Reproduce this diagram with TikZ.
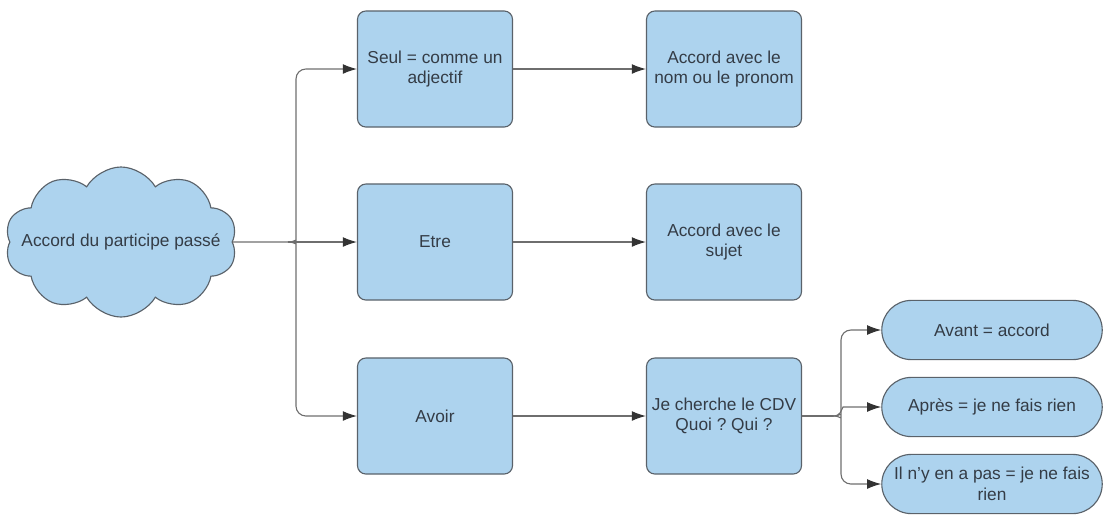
\documentclass[tikz,border=0pt]{standalone}
\usepackage{fontspec}
\setmainfont{Liberation Sans}
\usetikzlibrary{shapes.symbols}
\usetikzlibrary{shapes.misc}
\usetikzlibrary{arrows.meta}
\definecolor{boxblue}{RGB}{173,211,238}
\definecolor{boxline}{RGB}{90,98,106}
\definecolor{txtgray}{RGB}{52,60,70}
\definecolor{wire}{RGB}{110,110,110}
\frenchspacing

\begin{document}
\begin{tikzpicture}[x=0.025cm,y=-0.025cm,
  every node/.style={text=txtgray,font=\fontsize{12.3}{14.5}\selectfont,align=center},
  box/.style={rectangle,draw=boxline,line width=0.8pt,fill=boxblue,rounded corners=6pt,minimum width=3.875cm,minimum height=2.9cm},
  pill/.style={rounded rectangle,draw=boxline,line width=0.8pt,fill=boxblue,minimum width=5.65cm,minimum height=1.48cm,inner xsep=2pt},
  link/.style={draw=wire,line width=0.8pt,-{Latex[length=10pt,width=7pt,color=black!80]}}]
\useasboundingbox (0,0) rectangle (1108,514);
%\usetikzlibrary{shapes.symbols}
\path (121,242) node(cloud)[cloud,cloud puffs=10,cloud puff arc=120,cloud ignores aspect,draw=boxline,line width=0.8pt,fill=boxblue,minimum width=5.8cm,minimum height=3.75cm,inner sep=0pt]{\makebox[0pt]{Accord du participe pass\'e}}
(435,69) node(seul)[box]{Seul = comme un\\adjectif}
(435,242) node(etre)[box]{Etre}
(435,416) node(avoir)[box]{Avoir}
(724,69) node(nom)[box]{Accord avec le\\nom ou le pronom}
(724,242) node(sujet)[box]{Accord avec le\\sujet}
(724,416) node(cdv)[box]{Je cherche le CDV\\Quoi ? Qui ?}
(992,330) node(avant)[pill]{Avant = accord}
(992,407) node(apres)[pill]{Apr\`es = je ne fais rien}
(992,484) node(rien)[pill]{Il n'y en a pas = je ne fais\\rien};
\coordinate (j1) at (288,242);
\coordinate (j2) at (833,416);
\draw[draw=wire,line width=0.8pt](cloud.east)--(j1);
\draw[link](j1)--(etre);
\draw[link,rounded corners=7pt](j1) .. controls (296,242) and (296,238) .. (296,232) |- (seul);
\draw[link,rounded corners=7pt](j1) .. controls (296,242) and (296,246) .. (296,252) |- (avoir);
\draw[link](seul)--(nom);
\draw[link](etre)--(sujet);
\draw[link](avoir)--(cdv);
\draw[draw=wire,line width=0.8pt](cdv.east)--(j2);
\draw[link](j2) .. controls (841,416) and (841,410) .. (843,407) -- (apres);
\draw[link,rounded corners=7pt](j2) .. controls (841,416) and (841,412) .. (841,406) |- (avant);
\draw[link,rounded corners=7pt](j2) .. controls (841,416) and (841,420) .. (841,426) |- (rien);
\end{tikzpicture}
\end{document}
